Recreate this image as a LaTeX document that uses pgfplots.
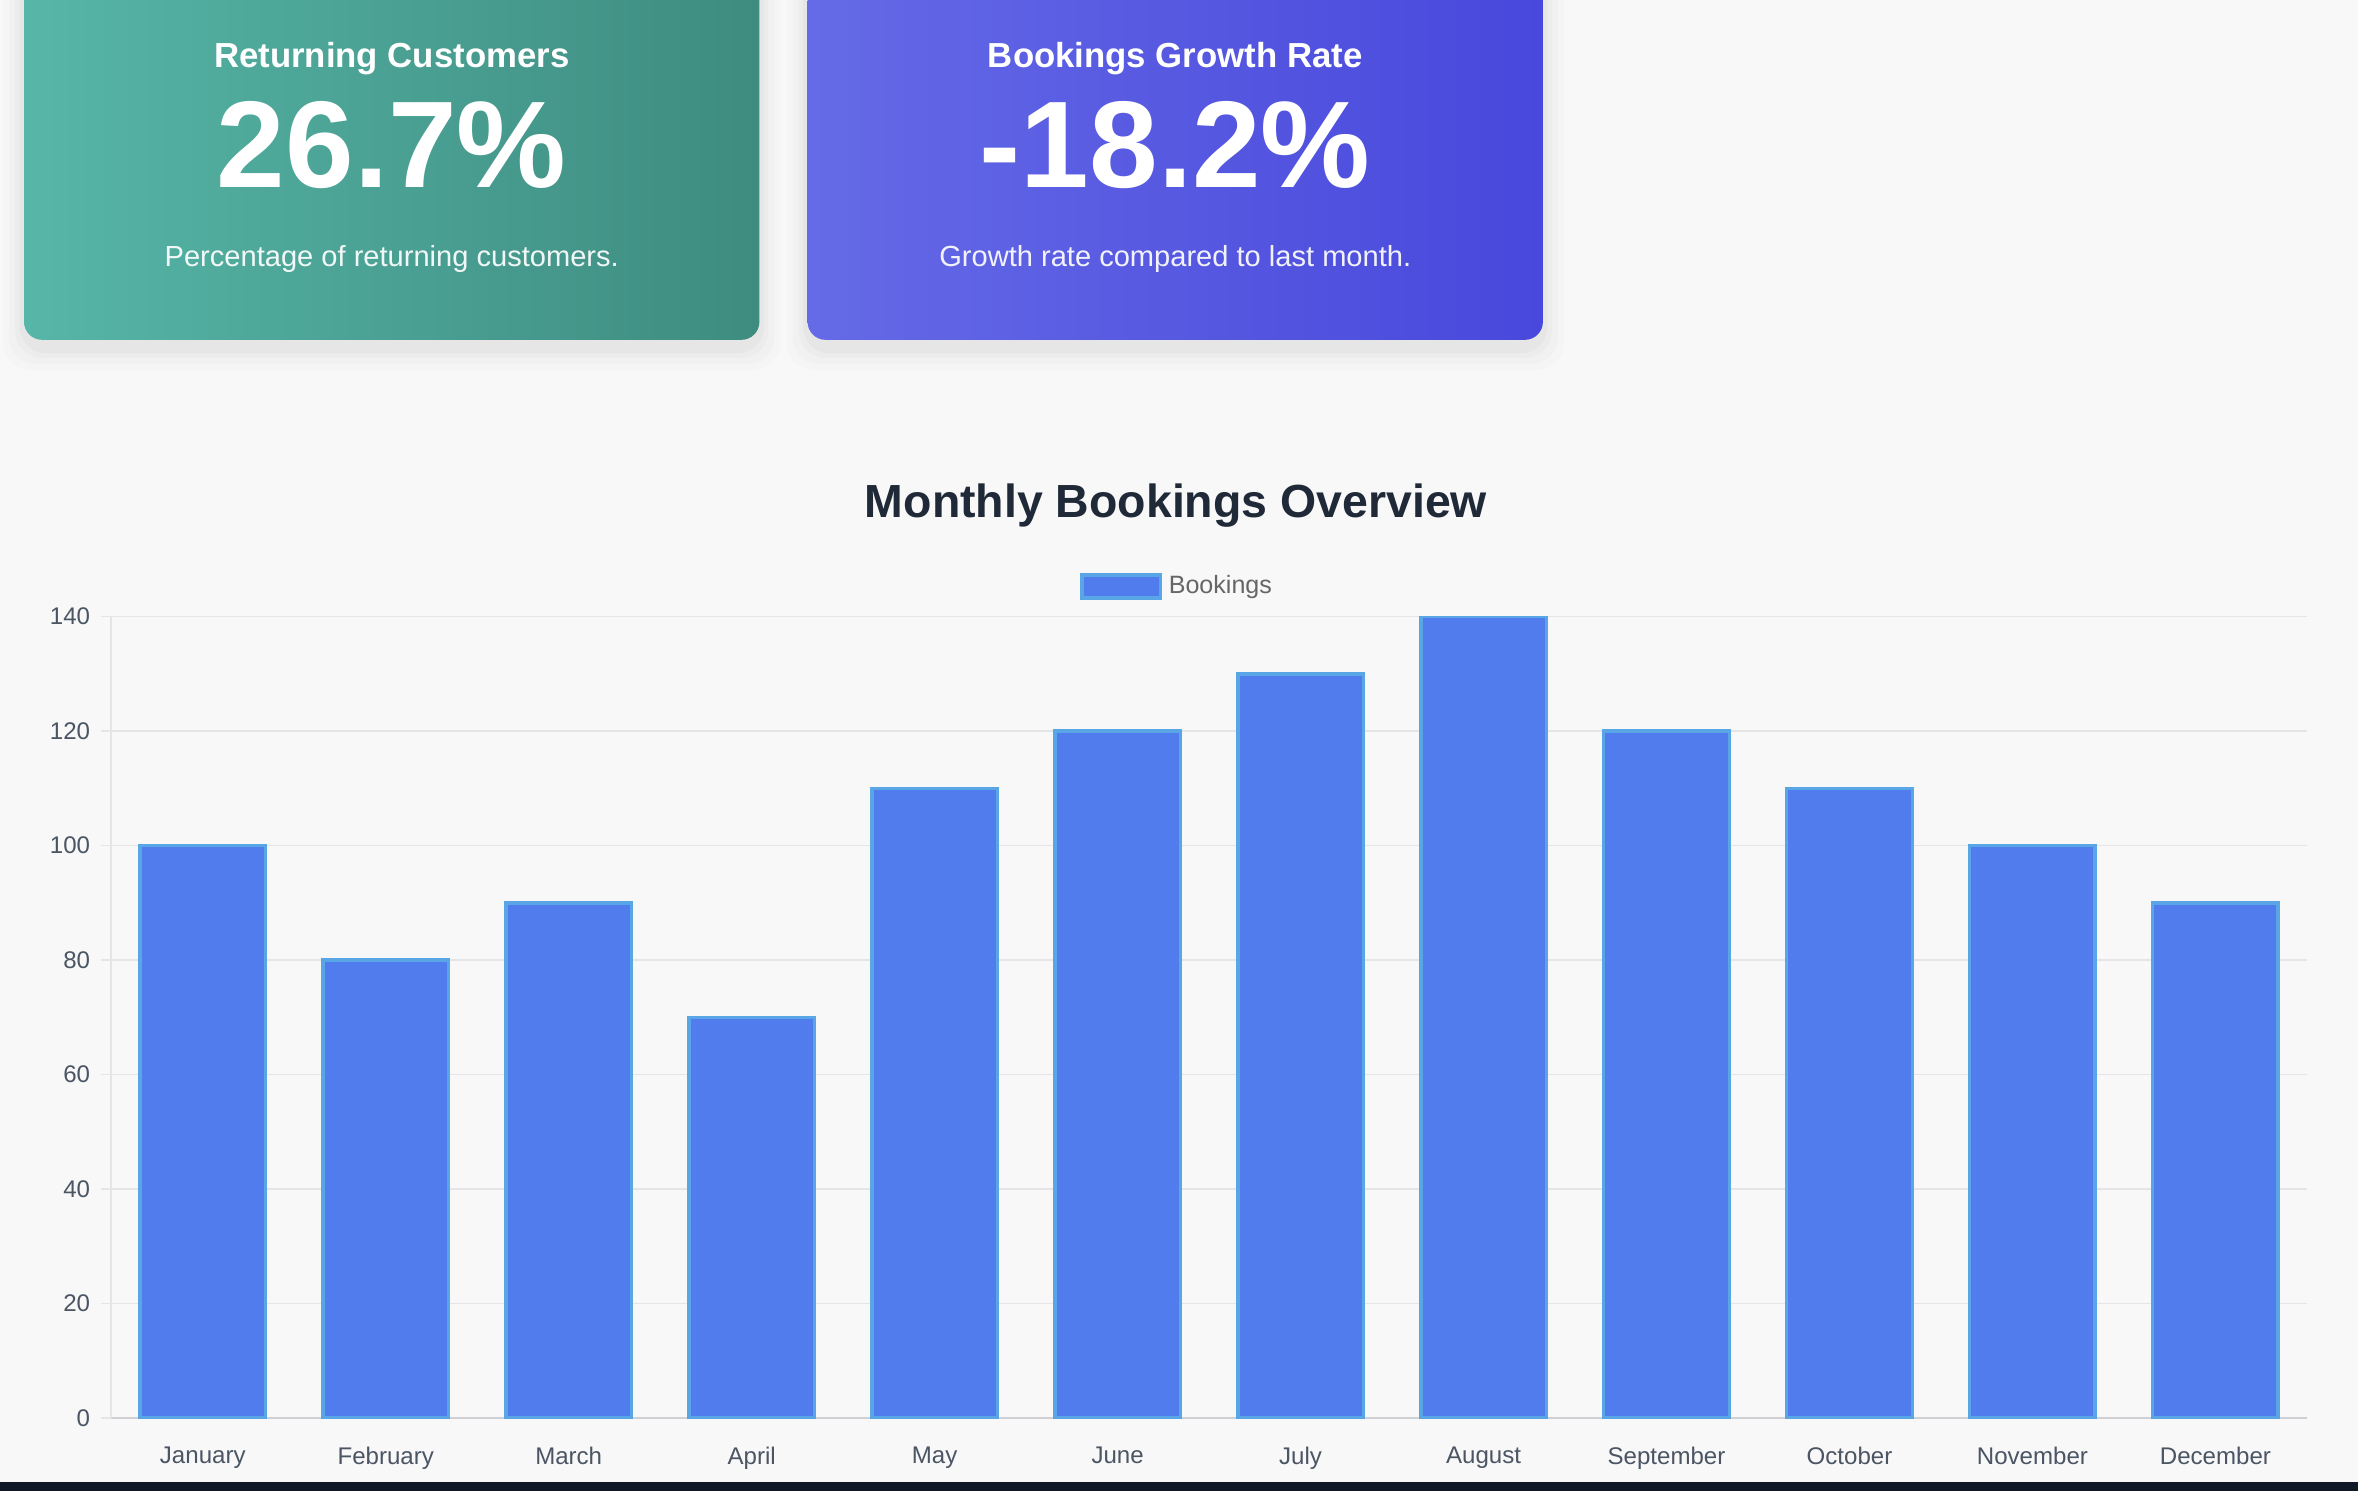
\documentclass[border=0pt]{standalone}
\usepackage{fontspec}
\setmainfont{Liberation Sans}
\usepackage{pgfplots}
\pgfplotsset{compat=1.18}
\definecolor{bg}{RGB}{248,248,249}
\definecolor{cardAl}{RGB}{86,182,167}
\definecolor{cardAr}{RGB}{62,140,128}
\definecolor{cardBl}{RGB}{101,106,230}
\definecolor{cardBr}{RGB}{72,72,220}
\definecolor{darkbar}{RGB}{17,24,39}
\definecolor{titlec}{RGB}{31,41,55}
\definecolor{tickc}{RGB}{75,85,99}
\definecolor{legc}{RGB}{102,102,102}
\definecolor{gridc}{RGB}{229,229,231}
\definecolor{xaxisc}{RGB}{208,208,212}
\definecolor{barfill}{RGB}{80,124,238}
\definecolor{barline}{RGB}{88,166,230}
\begin{document}
\begin{tikzpicture}
\clip (0pt,0pt) rectangle (705.6pt,-445.95pt);
\fill[bg] (0pt,0pt) rectangle (705.6pt,-445.95pt);
\begin{scope}[x=0.45pt,y=-0.45pt]
  % shadows
  \foreach \d/\o in {14/0.012,10/0.016,6/0.02,3/0.025}{
    \fill[black,opacity=\o,rounded corners=8pt] (16-\d,-20) rectangle (505+\d,226+\d+6);
    \fill[black,opacity=\o,rounded corners=8pt] (537-\d,-20) rectangle (1026+\d,226+\d+6);
  }
  \shade[rounded corners=5.4pt,left color=cardAl,right color=cardAr] (16,-20) rectangle (505,226);
  \shade[rounded corners=5.4pt,left color=cardBl,right color=cardBr] (537,-20) rectangle (1026,226);
  % card texts
  \node[anchor=base,text=white,font=\fontsize{10.4}{12}\selectfont\bfseries,inner sep=0pt] at (260.5,45) {Returning Customers};
  \node[anchor=base,text=white,font=\fontsize{36.9}{40}\selectfont\bfseries,inner sep=0pt] at (260.5,125) {26.7\%};
  \node[anchor=base,text=white,opacity=0.92,font=\fontsize{8.7}{10}\selectfont,inner sep=0pt] at (260.5,177) {Percentage of returning customers.};
  \node[anchor=base,text=white,font=\fontsize{10.4}{12}\selectfont\bfseries,inner sep=0pt] at (781.5,45) {Bookings Growth Rate};
  \node[anchor=base,text=white,font=\fontsize{36.9}{40}\selectfont\bfseries,inner sep=0pt] at (781.5,125) {-18.2\%};
  \node[anchor=base,text=white,opacity=0.92,font=\fontsize{8.7}{10}\selectfont,inner sep=0pt] at (781.5,177) {Growth rate compared to last month.};
  % chart title
  \node[anchor=base,text=titlec,font=\fontsize{13.9}{15}\selectfont\bfseries,inner sep=0pt] at (782,344) {Monthly Bookings Overview};
  % bottom bar
  \fill[darkbar] (0,985.5) rectangle (1568,995);
\end{scope}
\begin{axis}[
  at={(33.3pt,-424.35pt)}, anchor=south west,
  scale only axis, width=657pt, height=239.85pt,
  xmin=-0.5, xmax=11.5, ymin=0, ymax=140,
  xtick={0,...,11},
  xticklabels={January,February,March,April,May,June,July,August,September,October,November,December},
  ytick={0,20,...,140},
  ymajorgrids, grid style={color=gridc, line width=0.5pt},
  axis lines*=left,
  y axis line style={color=gridc, line width=0.5pt},
  x axis line style={color=xaxisc, line width=0.7pt},
  tick align=outside, major tick length=3.15pt,
  ytick style={color=gridc, line width=0.5pt},
  xtick style={draw=none},
  tick label style={font=\fontsize{7.2}{8}\selectfont, text=tickc},
  yticklabel style={inner sep=0pt, anchor=east, xshift=-3pt},
  xticklabel style={inner sep=0pt, anchor=north, yshift=-5.3pt},
  /pgf/number format/assume math mode=true,
  ybar, bar width=37.6pt,
  legend style={at={(0.4865,1.0375)}, anchor=center, draw=none, fill=none,
    font=\fontsize{7.5}{8}\selectfont, text=legc, inner sep=0pt},
  legend image code/.code={\draw[fill=barfill,draw=barline,line width=1pt] (0pt,-3.4pt) rectangle (23.5pt,3.4pt);},
]
\addplot[fill=barfill, draw=barline, line width=1.08pt] coordinates {
  (0,100) (1,80) (2,90) (3,70) (4,110) (5,120) (6,130) (7,140) (8,120) (9,110) (10,100) (11,90)};
\addlegendentry{Bookings}
\end{axis}
\end{tikzpicture}
\end{document}
